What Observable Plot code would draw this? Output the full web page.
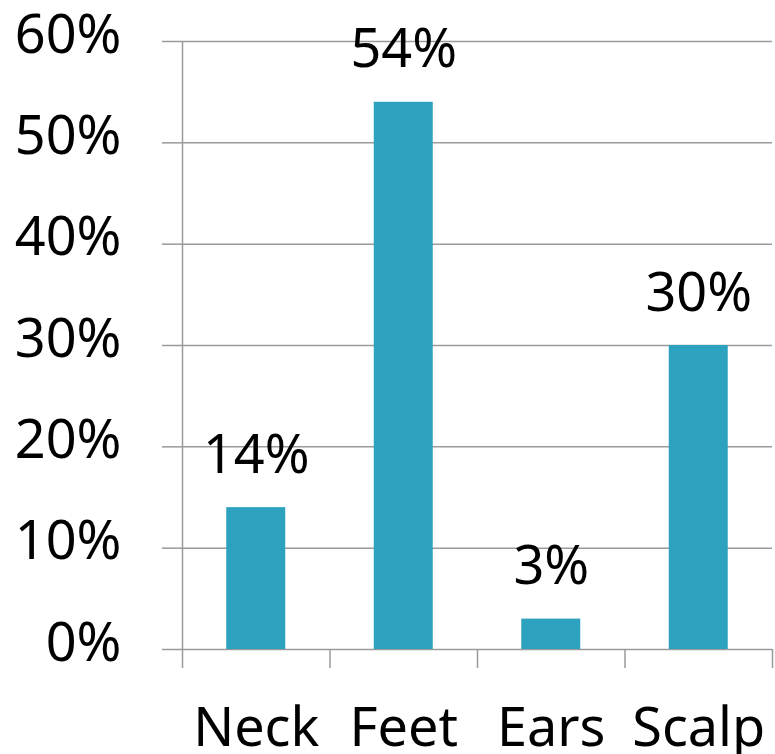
<!DOCTYPE html>
<html>
<head>
<meta charset="utf-8">
<script src="https://cdn.jsdelivr.net/npm/d3@7"></script>
<script src="https://cdn.jsdelivr.net/npm/@observablehq/plot@0.6"></script>
<style>
  html, body { margin: 0; padding: 0; background: #fff; }
</style>
</head>
<body>
<div id="chart"></div>
<script>
const categories = ["Neck", "Feet", "Ears", "Scalp"];
const values = [14, 54, 3, 30];
const yTicks = [0, 10, 20, 30, 40, 50, 60];

const data = categories.map((c, i) => ({ i, category: c, value: values[i] }));
const gridColor = "#9a9a9a";

const chart = Plot.plot({
  width: 775,
  height: 754,
  marginLeft: 182,
  marginRight: 3,
  marginTop: 41,
  marginBottom: 105,
  style: { fontFamily: "'Noto Sans', sans-serif", fontSize: "54px", color: "#000", background: "#fff" },
  x: { type: "linear", domain: [0, categories.length] },
  y: { domain: [0, 60] },
  marks: [
    Plot.gridY(yTicks, { stroke: gridColor, strokeOpacity: 1, strokeWidth: 1.5 }),
    Plot.axisY(yTicks, {
      tickSize: 20, tickFormat: () => "",
      stroke: gridColor, strokeWidth: 1.5, label: null
    }),
    Plot.axisY(yTicks, {
      tickSize: 0, tickPadding: 61, tickFormat: d => d + "%",
      dy: -6, label: null, fontSize: 54
    }),
    Plot.ruleX([0], { stroke: gridColor, strokeWidth: 1.5 }),
    Plot.axisX(d3.range(categories.length + 1), {
      tickSize: 19, tickFormat: () => "", stroke: gridColor, strokeWidth: 1.5, label: null
    }),
    Plot.axisX(data.map(d => d.i + 0.5), {
      tickSize: 0, tickPadding: 58, tickFormat: d => categories[Math.floor(d)],
      label: null, fontSize: 54
    }),
    Plot.rectY(data, { x1: d => d.i + 0.3, x2: d => d.i + 0.7, y: "value", fill: "#2DA2BF" }),
    Plot.text(data, {
      x: d => d.i + 0.5, y: "value", text: d => d.value + "%",
      dy: -35, lineAnchor: "bottom", fontSize: 54, fill: "#000"
    })
  ]
});
document.getElementById("chart").appendChild(chart);
</script>
</body>
</html>
